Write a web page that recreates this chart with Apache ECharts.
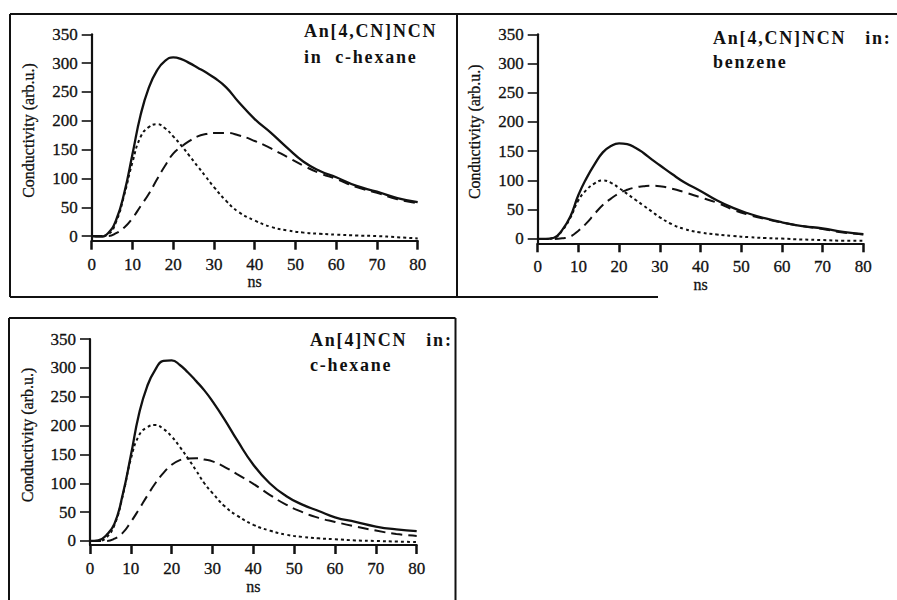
<!DOCTYPE html>
<html>
<head>
<meta charset="utf-8">
<script src="https://cdn.jsdelivr.net/npm/echarts@6/dist/echarts.min.js"></script>
<style>
  html, body { margin: 0; padding: 0; background: #fff; }
  #chart { width: 897px; height: 600px; }
  /* spaced-out bold panel captions */
  #chart text[style*="bold"] { letter-spacing: 1.8px; }
</style>
</head>
<body>
<div id="chart"></div>
<script>
// time axis (ns) shared by every curve
const times = [0, 2, 4, 6, 8, 10, 12, 14, 16, 18, 20, 22, 24, 26, 28, 30, 33, 36, 40, 44, 48, 52, 56, 60, 65, 70, 75, 80];

// An[4,CN]NCN in c-hexane
const hexCN_total = [0, -1, 5, 28, 75, 142, 210, 257, 287, 304, 310, 307, 300, 292, 284, 275, 258, 233, 203, 179, 153, 129, 113, 102, 87, 77, 66, 59];
const hexCN_fast  = [0, 0, 3, 25, 72, 128, 172, 189, 194, 187, 173, 157, 139, 121, 103, 85, 61, 42, 27, 16, 10, 6, 4, 2.5, 1, 0, -2, -4];
const hexCN_slow  = [0, 0, 0, 5, 15, 31, 52, 73, 98, 122, 143, 155, 165, 173, 177, 179, 179, 175, 165, 152, 137, 122, 109, 99, 85, 75, 64, 57];

// An[4,CN]NCN in benzene
const benzCN_total = [0, 0, 2, 15, 38, 75, 104, 128, 148, 159, 163.5, 162, 156, 147, 136, 126, 111, 97, 82, 66, 53, 43, 35, 28.5, 22, 18, 12, 8];
const benzCN_fast  = [0, 0, 2, 14, 36, 66, 84, 95, 100, 96, 87, 77, 67, 57, 47, 37, 25, 17, 11, 7.5, 5, 3, 1.5, 0.5, -1, -2, -3, -3];
const benzCN_slow  = [0, 0, 0, 1, 4, 14, 27, 43, 58, 69, 78, 84, 88, 90, 91, 90, 86, 80, 71, 62, 50, 41, 34, 28, 22, 17, 11, 8];

// An[4]NCN in c-hexane
const hex_total = [0, 1, 10, 30, 80, 148, 220, 268, 297, 312, 313, 305, 292, 277, 261, 242, 210, 175, 132, 100, 78, 63, 52, 41, 33, 25, 20, 17];
const hex_fast  = [0, 0, 6, 28, 78, 142, 183, 197, 201, 194, 181, 163, 143, 122, 100, 83, 60, 44, 28, 18, 11, 7, 4.5, 3, 1, 0, -1, -2];
const hex_slow  = [0, 0, 0, 4, 14, 33, 55, 78, 100, 118, 132, 140, 143, 143.5, 141, 138, 128, 116, 99, 80, 63, 50, 40, 33, 25, 18, 12, 8.7];

// tick labels
const xTicks = [0, 10, 20, 30, 40, 50, 60, 70, 80];
const yTicks = [0, 50, 100, 150, 200, 250, 300, 350];

// panel captions
const captions = [
  'An[4,CN]NCN\nin\u00a0\u00a0c-hexane',
  'An[4,CN]NCN\u00a0\u00a0\u00a0in:\nbenzene',
  'An[4]NCN\u00a0\u00a0\u00a0in:\nc-hexane'
];

const panels = [
  { total: hexCN_total, fast: hexCN_fast, slow: hexCN_slow },
  { total: benzCN_total, fast: benzCN_fast, slow: benzCN_slow },
  { total: hex_total, fast: hex_fast, slow: hex_slow }
];

const FONT = "'Liberation Serif', 'Times New Roman', serif";
const INK = '#111';

const gridBoxes = [
  { left: 91.7, top: 34.3, width: 326, height: 206.4, ymin: -8 },
  { left: 537.7, top: 34.3, width: 325.6, height: 209, ymin: -7.5 },
  { left: 90, top: 339, width: 326.7, height: 206, ymin: -7 }
];

const captionPos = [
  { left: 304, top: 18, lineHeight: 26 },
  { left: 713, top: 26, lineHeight: 24 },
  { left: 310, top: 327, lineHeight: 25 }
];

const pairs = (ys) => times.map((t, i) => [t, ys[i]]);

const grids = gridBoxes.map(g => ({
  left: g.left, top: g.top, width: g.width, height: g.height,
  containLabel: false, outerBoundsMode: 'none'
}));

const labelInk = { color: INK, textBorderColor: INK, textBorderWidth: 0.3 };

const xAxes = gridBoxes.map((g, i) => ({
  type: 'value', gridIndex: i, min: 0, max: 80, interval: 10,
  name: 'ns', nameLocation: 'middle', nameGap: 31,
  nameTextStyle: Object.assign({ fontFamily: FONT, fontSize: 16 }, labelInk),
  axisLine: { onZero: false, lineStyle: { color: INK, width: 2.2 } },
  axisTick: { length: 9, lineStyle: { color: INK, width: 2.5 } },
  axisLabel: Object.assign({
    margin: 15, fontFamily: FONT, fontSize: 17, customValues: xTicks
  }, labelInk),
  splitLine: { show: false }
}));

const yAxes = gridBoxes.map((g, i) => ({
  type: 'value', gridIndex: i, min: g.ymin, max: 350,
  name: 'Conductivity (arb.u.)', nameLocation: 'middle', nameGap: 55,
  nameTextStyle: Object.assign({ fontFamily: FONT, fontSize: 16, padding: [0, 0, 0, 14] }, labelInk),
  axisLine: { onZero: false, lineStyle: { color: INK, width: 2.2 } },
  axisTick: { length: 10, customValues: yTicks, lineStyle: { color: INK, width: 1.6 } },
  axisLabel: Object.assign({
    margin: 14, fontFamily: FONT, fontSize: 17, customValues: yTicks
  }, labelInk),
  splitLine: { show: false }
}));

const series = [];
panels.forEach((p, i) => {
  const common = {
    type: 'line', xAxisIndex: i, yAxisIndex: i, showSymbol: false,
    smooth: true, silent: true, animation: false
  };
  series.push(Object.assign({}, common, {
    name: 'slow', data: pairs(p.slow), z: 2,
    lineStyle: { color: INK, width: 2, type: [11, 6] }
  }));
  series.push(Object.assign({}, common, {
    name: 'fast', data: pairs(p.fast), z: 3,
    lineStyle: { color: INK, width: 2, type: [3, 3] }
  }));
  series.push(Object.assign({}, common, {
    name: 'total', data: pairs(p.total), z: 4,
    lineStyle: { color: INK, width: 2.3, type: 'solid' }
  }));
});

const titles = captions.map((text, i) => ({
  text: text, left: captionPos[i].left, top: captionPos[i].top, padding: 0,
  textStyle: {
    fontFamily: FONT, fontWeight: 'bold', fontSize: 18,
    color: INK, lineHeight: captionPos[i].lineHeight
  }
}));

// panel frames
const frameStyle = { stroke: INK, lineWidth: 2, fill: null };
const frameLines = [
  [[10, 14], [897, 14]],
  [[10, 14], [10, 297]],
  [[10, 297], [658, 297]],
  [[457, 14], [457, 297]],
  [[9, 318], [455.5, 318]],
  [[9, 318], [9, 600]],
  [[455.5, 318], [455.5, 600]]
];

const chart = echarts.init(document.getElementById('chart'), null, { renderer: 'svg' });
chart.setOption({
  animation: false,
  backgroundColor: '#fff',
  title: titles,
  grid: grids,
  xAxis: xAxes,
  yAxis: yAxes,
  series: series,
  graphic: frameLines.map(pts => ({
    type: 'polyline', silent: true,
    shape: { points: pts }, style: frameStyle
  }))
});
</script>
</body>
</html>
